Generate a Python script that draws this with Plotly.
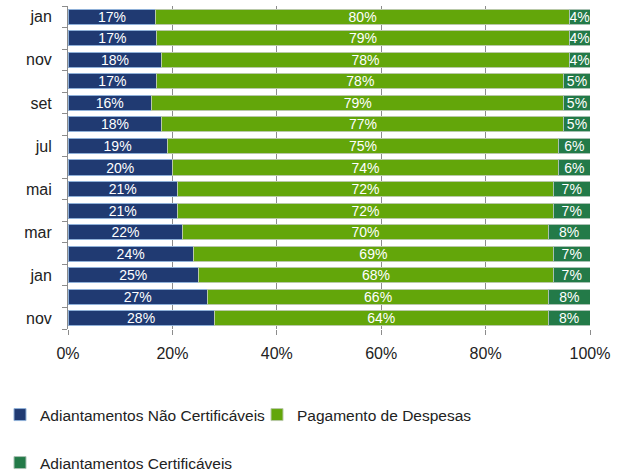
import plotly.graph_objects as go

months = ["nov/10", "dez/10", "jan/11", "fev/11", "mar/11", "abr/11", "mai/11",
          "jun/11", "jul/11", "ago/11", "set/11", "out/11", "nov/11", "dez/11", "jan/12"]
tick_labels = ["nov", "", "jan", "", "mar", "", "mai", "", "jul", "", "set", "", "nov", "", "jan"]
x_ticks = [0, 20, 40, 60, 80, 100]
x_tick_labels = ["0%", "20%", "40%", "60%", "80%", "100%"]

nao_cert = [28, 27, 25, 24, 22, 21, 21, 20, 19, 18, 16, 17, 18, 17, 17]
despesas = [64, 66, 68, 69, 70, 72, 72, 74, 75, 77, 79, 78, 78, 79, 80]
cert = [8, 8, 7, 7, 8, 7, 7, 6, 6, 5, 5, 5, 4, 4, 4]

series = [
    ("Adiantamentos Não Certificáveis", nao_cert, "#203A72", "#8FB0D8", "legend"),
    ("Pagamento de Despesas", despesas, "#63A60A", "#B9C9A8", "legend2"),
    ("Adiantamentos Certificáveis", cert, "#237A48", "#A9C1B3", "legend3"),
]

FONT = "Liberation Sans"
fig = go.Figure()
for name, vals, color, line, leg in series:
    fig.add_trace(go.Bar(
        y=months, x=vals, name=name, orientation="h",
        marker=dict(color=color, line=dict(color=line, width=1)),
        text=[f"{v}%" for v in vals], textposition="inside",
        insidetextanchor="middle", constraintext="none",
        textfont=dict(color="white", size=14, family=FONT),
        legend=leg,
    ))

leg_common = dict(orientation="h", xanchor="left", yanchor="middle",
                  xref="container", yref="container",
                  font=dict(size=15.5, family=FONT, color="#222222"),
                  bgcolor="rgba(0,0,0,0)")
fig.update_layout(
    barmode="stack", barnorm="percent", bargap=0.3,
    width=624, height=475,
    margin=dict(l=68, r=34, t=6, b=146),
    plot_bgcolor="white", paper_bgcolor="white",
    font=dict(family=FONT, size=16, color="#222222"),
    showlegend=True,
    legend=dict(x=0.0, y=1 - 415 / 475, **leg_common),
    legend2=dict(x=257 / 624, y=1 - 415 / 475, **leg_common),
    legend3=dict(x=0.0, y=1 - 463 / 475, **leg_common),
)
fig.update_xaxes(range=[0, 100], tickvals=x_ticks, ticktext=x_tick_labels,
                 showgrid=True, gridcolor="#8c8c8c", gridwidth=1,
                 ticks="outside", ticklen=5, tickcolor="#8c8c8c",
                 ticklabelstandoff=5, automargin=False,
                 zeroline=False, showline=False, tickfont=dict(size=16))
fig.update_yaxes(categoryorder="array", categoryarray=months,
                 tickvals=months, ticktext=tick_labels, tickson="boundaries",
                 ticks="outside", ticklen=5, tickcolor="#8c8c8c",
                 ticklabelstandoff=12, automargin=False,
                 showline=True, linecolor="#8c8c8c", linewidth=1,
                 showgrid=False, tickfont=dict(size=16))

fig.write_html("out.html", config={"displayModeBar": False},
               post_script="document.body.style.margin='0';")
